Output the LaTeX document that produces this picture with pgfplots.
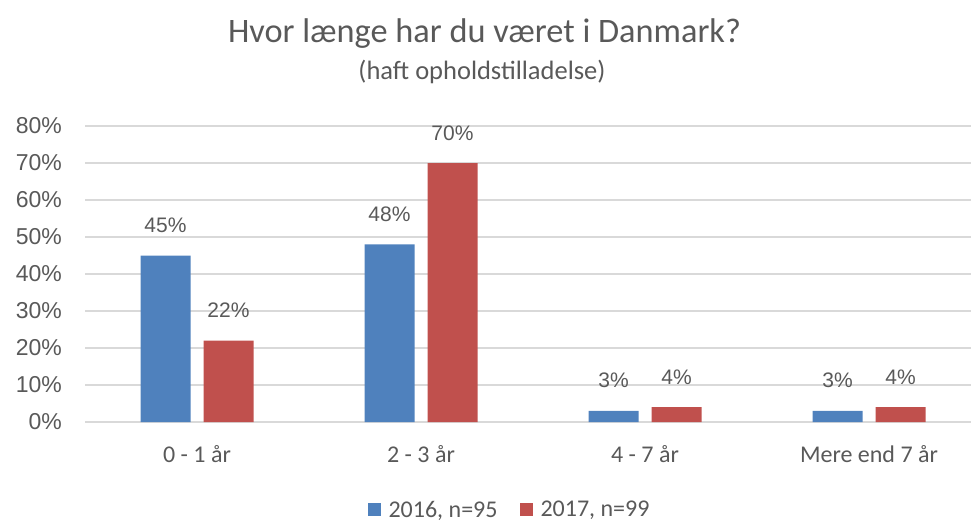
\documentclass[border=0pt]{standalone}
\usepackage{pgfplots}
\pgfplotsset{compat=1.18}
\usepackage{fontspec}
\setmainfont{Carlito}
\newfontfamily\calfont{Carlito}
\newfontfamily\arifont{Liberation Sans}
\definecolor{txt}{HTML}{595959}
\definecolor{grd}{HTML}{D9D9D9}
\definecolor{cblue}{HTML}{4F81BD}
\definecolor{cred}{HTML}{C0504D}
\begin{document}
\begin{tikzpicture}
\useasboundingbox (0,0) rectangle (971pt,522pt);
\node[anchor=base, text=txt, inner sep=0pt, font=\calfont\fontsize{34.3}{40}\selectfont] at (484.5pt,479pt) {Hvor længe har du været i Danmark?};
\node[anchor=base, text=txt, inner sep=0pt, font=\calfont\fontsize{26.5}{32}\selectfont] at (482pt,442pt) {(haft opholdstilladelse)};
\begin{axis}[
  at={(85pt,100pt)}, anchor=south west,
  scale only axis, width=896pt, height=296pt,
  xmin=-0.5, xmax=3.5, ymin=0, ymax=80,
  ybar=13pt, bar width=50pt,
  xtick={0,1,2,3},
  xticklabels={0 - 1 år, 2 - 3 år, 4 - 7 år, Mere end 7 år},
  ytick={0,10,...,80},
  yticklabel={\pgfmathprintnumber{\tick}\%},
  /pgf/number format/assume math mode=true,
  major tick length=0pt,
  ymajorgrids, grid style={grd, line width=1.5pt},
  axis line style={draw=none},
  axis x line*=bottom, axis y line*=left,
  x axis line style={draw=grd, line width=1.5pt},
  xticklabel style={anchor=base, yshift=-40pt, inner sep=0pt, text=txt, font=\calfont\fontsize{24}{28}\selectfont},
  yticklabel style={anchor=east, xshift=-23pt, inner sep=0pt, text=txt, font=\arifont\fontsize{23}{27}\selectfont},
  nodes near coords={\pgfmathprintnumber{\pgfplotspointmeta}\%},
  nodes near coords style={anchor=base, yshift=23pt, inner sep=0pt, text=txt, font=\arifont\fontsize{21}{25}\selectfont, /pgf/number format/assume math mode=true},
  legend columns=2,
  legend style={at={(0.4738,-0.297)}, anchor=center, draw=none, fill=none,
    font=\calfont\fontsize{24}{28}\selectfont, text=txt,
    /tikz/every even column/.append style={column sep=20pt}},
  legend image code/.code={\fill[#1] (0pt,-6.5pt) rectangle (13pt,6.5pt); \path (19pt,0pt);},
  clip=false,
]
\addplot[fill=cblue, draw=none] coordinates {(0,45) (1,48) (2,3) (3,3)};
\addplot[fill=cred, draw=none] coordinates {(0,22) (1,70) (2,4) (3,4)};
\legend{2016{,} n=95, 2017{,} n=99}
\end{axis}
\end{tikzpicture}
\end{document}
